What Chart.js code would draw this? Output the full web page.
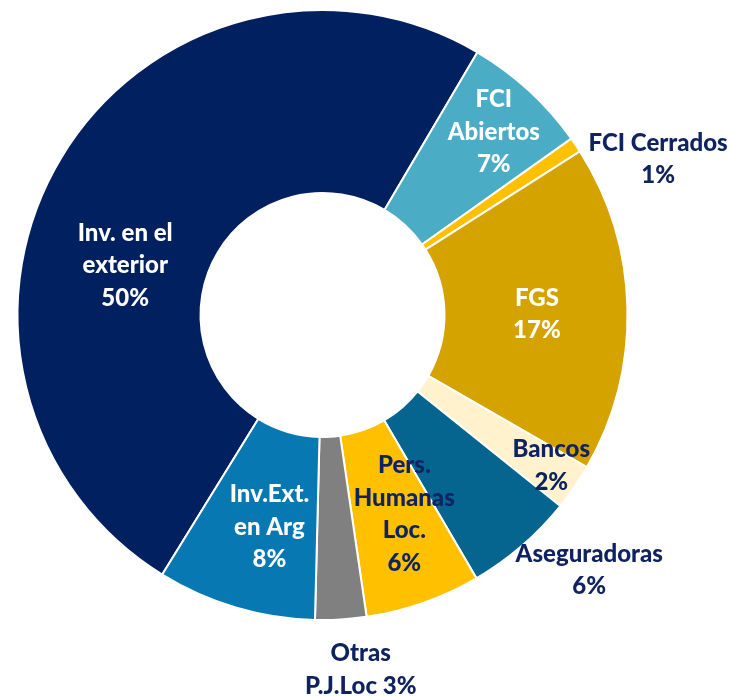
<!DOCTYPE html>
<html>
<head>
<meta charset="utf-8">
<script src="https://cdn.jsdelivr.net/npm/chart.js@4.4.1/dist/chart.umd.min.js"></script>
<style>
  html, body { margin: 0; padding: 0; background: #ffffff; }
  #wrap { width: 729px; height: 696px; }
</style>
</head>
<body>
<div id="wrap"><canvas id="chart" width="729" height="696"></canvas></div>
<script>
// Composition donut

const categories = [
  'Inv. en el exterior', 'FCI Abiertos', 'FCI Cerrados', 'FGS', 'Bancos',
  'Aseguradoras', 'Pers. Humanas Loc.', 'Otras P.J.Loc', 'Inv.Ext. en Arg'
];
const shares = [49.6, 6.7, 0.8, 17.3, 2.45, 5.8, 6.1, 2.7, 8.4];

// text shown on the chart, {p} is replaced by the rounded share
const labelText = [
  'Inv. en el\nexterior\n{p}', 'FCI\nAbiertos\n{p}', 'FCI Cerrados\n{p}', 'FGS\n{p}', 'Bancos\n{p}',
  'Aseguradoras\n{p}', 'Pers.\nHumanas\nLoc.\n{p}', 'Otras\nP.J.Loc {p}', 'Inv.Ext.\nen Arg\n{p}'
];

const sliceColors = ['#002060', '#4BACC6', '#FFC000', '#D4A300', '#FFF2CC',
                     '#05658F', '#FFC000', '#808080', '#0878B3'];
const NAVY = '#0E2360';
const textColors = ['#ffffff', '#ffffff', NAVY, '#ffffff', NAVY, NAVY, NAVY, NAVY, '#ffffff'];
// label placement: angle shift from slice middle (deg), distance as fraction of outer radius
const labelShift = [-17, 0.5, 9, 1, -1, -5.5, -3, -2.7, -2.5];
const labelDist = [0.667, 0.822, 1.213, 0.703, 0.898, 1.21, 0.706, 1.17, 0.716];

const total = shares.reduce((a, b) => a + b, 0);

const sliceLabels = {
  id: 'sliceLabels',
  afterDatasetsDraw(chart) {
    const ctx = chart.ctx;
    const arcs = chart.getDatasetMeta(0).data;
    ctx.save();
    ctx.font = '900 24px Lato';
    ctx.textAlign = 'center';
    ctx.textBaseline = 'middle';
    arcs.forEach((arc, i) => {
      const p = arc.getProps(['x', 'y', 'startAngle', 'endAngle', 'outerRadius'], true);
      const a = (p.startAngle + p.endAngle) / 2 + labelShift[i] * Math.PI / 180;
      const r = p.outerRadius * labelDist[i];
      const cx = p.x + r * Math.cos(a);
      const cy = p.y + r * Math.sin(a);
      const pct = Math.round(shares[i] / total * 100) + '%';
      const lines = labelText[i].replace('{p}', pct).split('\n');
      const lh = 32.5;
      ctx.fillStyle = textColors[i];
      lines.forEach((ln, k) => {
        ctx.fillText(ln, cx, cy + (k - (lines.length - 1) / 2) * lh);
      });
    });
    ctx.restore();
  }
};

new Chart(document.getElementById('chart').getContext('2d'), {
  type: 'doughnut',
  data: {
    labels: categories,
    datasets: [{
      data: shares,
      backgroundColor: sliceColors,
      borderColor: '#ffffff',
      borderWidth: 2,
    }],
  },
  options: {
    responsive: false,
    animation: false,
    cutout: '40%',
    rotation: 211.7,
    layout: { padding: { left: 16.5, top: 9, right: 100.5, bottom: 75 } },
    plugins: {
      legend: { display: false },
      tooltip: { enabled: false },
    },
  },
  plugins: [sliceLabels],
});
</script>
</body>
</html>
